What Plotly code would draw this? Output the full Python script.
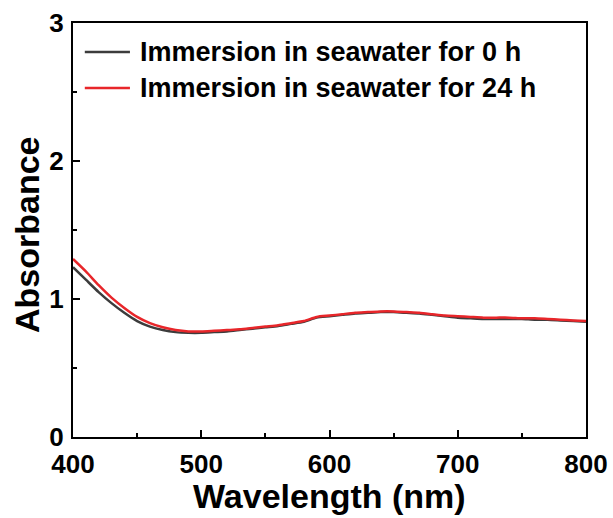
import plotly.graph_objects as go

# UV-Vis absorbance spectra of the coating before/after seawater immersion
wavelength = list(range(400, 801, 10))

absorb_0h = [1.23, 1.14, 1.05, 0.97, 0.90, 0.84, 0.80, 0.775, 0.76, 0.755,
             0.755, 0.76, 0.765, 0.775, 0.785, 0.795, 0.805, 0.82, 0.835, 0.865,
             0.875, 0.885, 0.895, 0.90, 0.905, 0.905, 0.90, 0.895, 0.885, 0.875,
             0.865, 0.86, 0.855, 0.855, 0.855, 0.855, 0.85, 0.85, 0.845, 0.84,
             0.835]

absorb_24h = [1.29, 1.20, 1.10, 1.01, 0.935, 0.87, 0.825, 0.795, 0.775, 0.765,
              0.765, 0.77, 0.775, 0.78, 0.79, 0.80, 0.81, 0.825, 0.84, 0.87,
              0.88, 0.89, 0.90, 0.905, 0.91, 0.91, 0.905, 0.90, 0.89, 0.88,
              0.875, 0.87, 0.865, 0.865, 0.865, 0.86, 0.86, 0.855, 0.85, 0.845,
              0.84]

series_names = ["Immersion in seawater for 0 h", "Immersion in seawater for 24 h"]
series_colors = ["#3c3c3c", "#e8262a"]
x_title = "Wavelength (nm)"
y_title = "Absorbance"

FONT = "Liberation Sans, Arial, sans-serif"

fig = go.Figure()
for name, ys, col in zip(series_names, [absorb_0h, absorb_24h], series_colors):
    fig.add_trace(go.Scatter(
        x=wavelength, y=ys, mode="lines", name=name, showlegend=False,
        line=dict(color=col, width=2.5, shape="spline", smoothing=0.6),
    ))

# Legend drawn by hand so the sample lines can be longer than Plotly's default
legend_rows_y = [0.930, 0.843]
for name, col, ly in zip(series_names, series_colors, legend_rows_y):
    fig.add_shape(type="line", xref="paper", yref="paper",
                  x0=0.023, x1=0.111, y0=ly, y1=ly,
                  line=dict(color=col, width=2.5))
    fig.add_annotation(xref="paper", yref="paper", x=0.127, y=ly,
                       xanchor="left", yanchor="middle", showarrow=False,
                       text=name,
                       font=dict(family=FONT, size=27, color="black", weight="bold"))

# Axis titles as annotations for fixed placement
title_font = dict(family=FONT, size=34, color="black", weight="bold")
fig.add_annotation(xref="paper", yref="paper", x=0.5, y=-0.143,
                   xanchor="center", yanchor="middle", showarrow=False,
                   text=x_title, font=title_font)
fig.add_annotation(xref="paper", yref="paper", x=-0.09, y=0.49,
                   xanchor="center", yanchor="middle", showarrow=False,
                   textangle=-90, text=y_title, font=title_font)

axis_common = dict(
    showline=True, linecolor="black", linewidth=2, mirror=True,
    ticks="inside", ticklen=7, tickwidth=2, tickcolor="black",
    showgrid=False, zeroline=False, automargin=False,
    tickfont=dict(family=FONT, size=26, color="black", weight="bold"),
)

fig.update_layout(
    width=613, height=518,
    margin=dict(l=73, r=27, t=23, b=81),
    paper_bgcolor="white", plot_bgcolor="white",
    font=dict(family=FONT, color="black"),
    xaxis=dict(
        range=[400, 800], tickvals=[400, 500, 600, 700, 800],
        minor=dict(tickvals=[450, 550, 650, 750], ticks="inside", ticklen=4,
                   tickwidth=2, tickcolor="black"),
        ticklabelstandoff=3,
        **axis_common,
    ),
    yaxis=dict(
        range=[0, 3], tickvals=[0, 1, 2, 3],
        minor=dict(tickvals=[0.5, 1.5, 2.5], ticks="inside", ticklen=4,
                   tickwidth=2, tickcolor="black"),
        ticklabelstandoff=2,
        **axis_common,
    ),
)

fig.write_html("out.html")
